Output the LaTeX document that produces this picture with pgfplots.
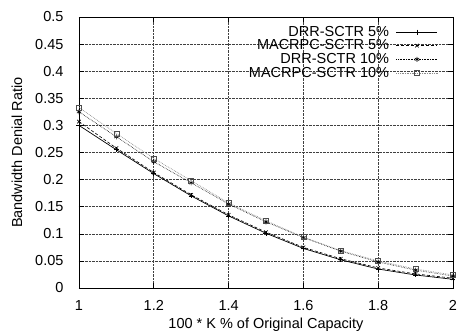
\documentclass[border=0pt]{standalone}
\usepackage{fontspec}
\setmainfont{Liberation Sans}
\usepackage{pgfplots}
\pgfplotsset{compat=1.18}
\begin{document}
\begin{tikzpicture}
\path[use as bounding box] (-79pt,-45pt) rectangle (380pt,288pt);
\begin{axis}[
  at={(0pt,0pt)}, anchor=south west,
  scale only axis,
  width=374pt, height=271pt,
  xmin=1, xmax=2, ymin=0, ymax=0.5,
  xtick={1,1.2,1.4,1.6,1.8,2},
  ytick={0,0.05,0.1,0.15,0.2,0.25,0.3,0.35,0.4,0.45,0.5},
  yticklabels={0,0.05,0.1,0.15,0.2,0.25,0.3,0.35,0.4,0.45,0.5},
  xticklabels={1,1.2,1.4,1.6,1.8,2},
  font=\fontsize{14.5}{17}\selectfont,
  /pgf/number format/assume math mode=true,
  tick align=inside,
  major tick length=5pt,
  axis line style={line width=0.8pt},
  tick style={line width=0.6pt, black},
  grid=major,
  grid style={densely dotted, black!75, line width=0.6pt},
  xticklabel style={yshift=-9pt},
  yticklabel style={xshift=-12pt},
  xlabel={100 * K \% of Original Capacity},
  ylabel={Bandwidth Denial Ratio},
  xlabel style={at={(axis description cs:0.5,-0.135)}, anchor=center},
  ylabel style={at={(axis description cs:-0.166,0.5)}, anchor=center},
  legend plot pos=right,
  legend cell align=right,
  legend style={draw=none, fill=none, at={(axis description cs:1,1)}, anchor=north east, xshift=-12pt, yshift=-5pt, row sep=-2pt, column sep=5pt, font=\fontsize{14.5}{17}\selectfont},
  legend image code/.code={\draw[mark repeat=2,mark phase=2] plot coordinates {(0cm,0cm) (0.72cm,0cm) (1.44cm,0cm)};},
]
\addplot[black, line width=0.7pt, mark=+, mark size=2.5pt, mark options={solid}] coordinates {
(1,0.300) (1.1,0.255) (1.2,0.211) (1.3,0.170) (1.4,0.133) (1.5,0.101) (1.6,0.073) (1.7,0.052) (1.8,0.035) (1.9,0.024) (2,0.016)};
\addlegendentry{DRR-SCTR 5\%}
\addplot[black, line width=0.6pt, dash pattern=on 3pt off 2pt, mark=x, mark size=2.5pt, mark options={solid}] coordinates {
(1,0.307) (1.1,0.258) (1.2,0.213) (1.3,0.172) (1.4,0.135) (1.5,0.103) (1.6,0.075) (1.7,0.054) (1.8,0.037) (1.9,0.026) (2,0.018)};
\addlegendentry{MACRPC-SCTR 5\%}
\addplot[black, line width=0.6pt, densely dotted, mark=asterisk, mark size=2.5pt, mark options={solid}] coordinates {
(1,0.325) (1.1,0.279) (1.2,0.233) (1.3,0.194) (1.4,0.155) (1.5,0.122) (1.6,0.093) (1.7,0.068) (1.8,0.048) (1.9,0.033) (2,0.022)};
\addlegendentry{DRR-SCTR 10\%}
\addplot[black!45, line width=0.7pt, densely dotted, mark=square, mark size=2.5pt, mark options={solid, black!70}] coordinates {
(1,0.333) (1.1,0.285) (1.2,0.239) (1.3,0.198) (1.4,0.157) (1.5,0.124) (1.6,0.094) (1.7,0.069) (1.8,0.050) (1.9,0.035) (2,0.024)};
\addlegendentry{MACRPC-SCTR 10\%}
\end{axis}
\end{tikzpicture}
\end{document}
